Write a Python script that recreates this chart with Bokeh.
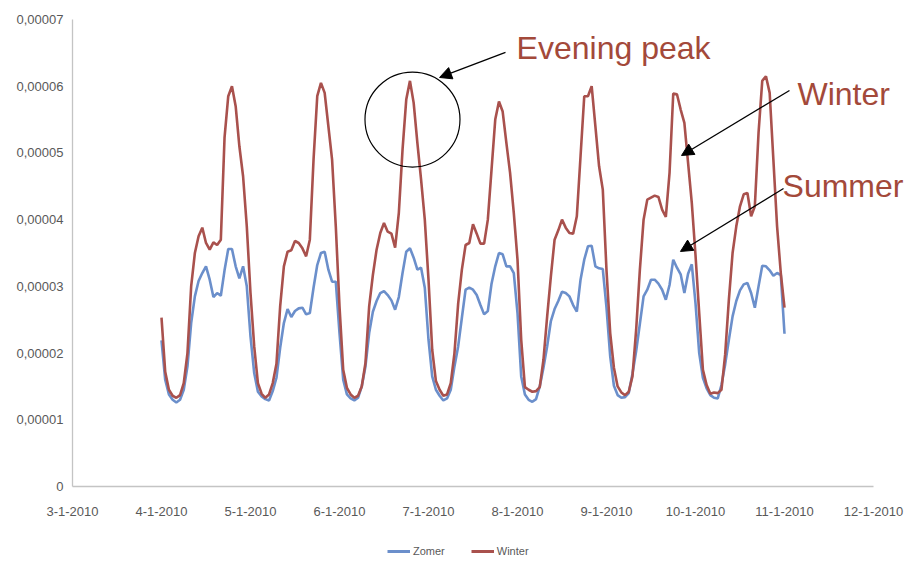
import pandas as pd
from bokeh.plotting import figure
from bokeh.layouts import column
from bokeh.models import (Range1d, FixedTicker, CustomJSTickFormatter, Legend, LegendItem,
                          Arrow, NormalHead, Label, ColumnDataSource)
from bokeh.embed import file_html
from bokeh.resources import INLINE

UNIT = 1e-5  # values below are in units of 0,00001

# ---- data: hourly values, 4-1-2010 00:00 .. 11-1-2010 00:00 ----
winter_jan04 = [2.53, 1.72, 1.45, 1.36, 1.33, 1.37, 1.55, 2.0, 3.0, 3.5, 3.75, 3.88, 3.65, 3.55, 3.66, 3.62, 3.7, 5.23, 5.85, 6.0, 5.7, 5.1, 4.65, 3.9]
winter_jan05 = [2.9, 2.1, 1.55, 1.39, 1.33, 1.38, 1.55, 1.84, 2.7, 3.3, 3.52, 3.54, 3.68, 3.65, 3.57, 3.45, 3.7, 4.9, 5.85, 6.05, 5.9, 5.4, 4.9, 3.9]
winter_jan06 = [2.7, 1.75, 1.48, 1.38, 1.33, 1.36, 1.5, 1.85, 2.7, 3.17, 3.55, 3.8, 3.95, 3.82, 3.79, 3.58, 4.1, 5.05, 5.8, 6.08, 5.75, 5.15, 4.6, 4.0]
winter_jan07 = [3.1, 2.05, 1.58, 1.45, 1.36, 1.38, 1.55, 2.0, 2.74, 3.25, 3.62, 3.65, 3.93, 3.79, 3.64, 3.64, 4.0, 4.75, 5.5, 5.77, 5.62, 5.15, 4.7, 4.1]
winter_jan08 = [3.4, 2.2, 1.49, 1.45, 1.42, 1.43, 1.49, 1.9, 2.55, 3.15, 3.7, 3.84, 4.0, 3.88, 3.8, 3.79, 4.05, 4.95, 5.85, 5.85, 6.0, 5.4, 4.8, 4.45]
winter_jan09 = [3.24, 2.3, 1.78, 1.5, 1.41, 1.37, 1.42, 1.65, 2.35, 3.25, 4.0, 4.3, 4.33, 4.36, 4.34, 4.15, 4.04, 4.7, 5.89, 5.88, 5.65, 5.45, 4.85, 4.25]
winter_jan10 = [3.47, 2.6, 1.75, 1.52, 1.39, 1.41, 1.4, 1.45, 1.98, 2.8, 3.5, 3.9, 4.2, 4.38, 4.4, 4.05, 4.2, 5.3, 6.08, 6.15, 5.9, 4.9, 3.9, 3.2]
winter_end = [2.68]

zomer_jan04 = [2.19, 1.6, 1.38, 1.3, 1.26, 1.3, 1.45, 1.8, 2.45, 2.85, 3.08, 3.2, 3.3, 3.1, 2.84, 2.9, 2.86, 3.24, 3.56, 3.56, 3.3, 3.12, 3.3, 3.0]
zomer_jan05 = [2.25, 1.7, 1.42, 1.35, 1.31, 1.29, 1.43, 1.63, 2.08, 2.45, 2.66, 2.54, 2.63, 2.67, 2.68, 2.58, 2.6, 2.98, 3.32, 3.5, 3.52, 3.25, 3.07, 3.07]
zomer_jan06 = [2.3, 1.6, 1.38, 1.32, 1.29, 1.33, 1.5, 1.8, 2.3, 2.62, 2.78, 2.9, 2.93, 2.87, 2.79, 2.65, 2.84, 3.2, 3.52, 3.57, 3.43, 3.25, 3.28, 2.98]
zomer_jan07 = [2.2, 1.65, 1.45, 1.36, 1.29, 1.32, 1.45, 1.8, 2.1, 2.53, 2.95, 2.98, 2.95, 2.87, 2.72, 2.58, 2.63, 3.04, 3.3, 3.5, 3.48, 3.3, 3.3, 3.2]
zomer_jan08 = [2.6, 1.65, 1.38, 1.3, 1.27, 1.31, 1.5, 1.78, 2.1, 2.48, 2.66, 2.78, 2.92, 2.9, 2.85, 2.72, 2.62, 3.1, 3.4, 3.6, 3.61, 3.3, 3.27, 3.26]
zomer_jan09 = [2.68, 1.95, 1.51, 1.37, 1.33, 1.34, 1.4, 1.69, 2.03, 2.44, 2.85, 2.95, 3.1, 3.1, 3.04, 2.95, 2.8, 3.02, 3.4, 3.28, 3.18, 2.9, 3.19, 3.33]
zomer_jan10 = [2.75, 2.0, 1.63, 1.47, 1.37, 1.33, 1.32, 1.52, 1.83, 2.2, 2.55, 2.78, 2.94, 3.03, 3.05, 2.9, 2.68, 3.0, 3.31, 3.3, 3.24, 3.16, 3.2, 3.17]
zomer_end = [2.29]

x_tick_labels = ["3-1-2010", "4-1-2010", "5-1-2010", "6-1-2010", "7-1-2010",
                 "8-1-2010", "9-1-2010", "10-1-2010", "11-1-2010", "12-1-2010"]
y_tick_labels = ["0", "0,00001", "0,00002", "0,00003", "0,00004", "0,00005", "0,00006", "0,00007"]

series_names = ["Zomer", "Winter"]

winter = (winter_jan04 + winter_jan05 + winter_jan06 + winter_jan07 +
          winter_jan08 + winter_jan09 + winter_jan10 + winter_end)
zomer = (zomer_jan04 + zomer_jan05 + zomer_jan06 + zomer_jan07 +
         zomer_jan08 + zomer_jan09 + zomer_jan10 + zomer_end)

times = pd.date_range("2010-01-04 00:00", periods=len(winter), freq="h")

DAY_MS = 86400000
PX_PER_DAY = 89.0
FRAME_W = 834
t0 = pd.Timestamp("2010-01-03").value / 1e6
t1 = pd.Timestamp("2010-01-12").value / 1e6
t_view_end = t0 + FRAME_W / PX_PER_DAY * DAY_MS

BLUE = "#6B8FCB"
RED = "#A9514D"
TXT = "#A3493A"
AXC = "#C4C4C4"
LBL = "#595959"
LINE_W = 2.6

src = ColumnDataSource(dict(t=times, zomer=[v * UNIT for v in zomer], winter=[v * UNIT for v in winter]))

p = figure(frame_width=FRAME_W, frame_height=467, x_axis_type="datetime",
           x_range=Range1d(t0, t_view_end), y_range=Range1d(0, 7 * UNIT),
           output_backend="svg", toolbar_location=None,
           min_border_left=72, min_border_right=0, min_border_top=19, min_border_bottom=42)
p.grid.visible = False
p.outline_line_color = None
p.background_fill_color = "white"
p.border_fill_color = "white"

# axes
p.xaxis.bounds = (t0, t1)
p.xaxis.ticker = FixedTicker(ticks=[t0 + i * DAY_MS for i in range(len(x_tick_labels))])
p.xaxis.formatter = CustomJSTickFormatter(args=dict(labels=x_tick_labels, start=t0, day=DAY_MS),
                                          code="return labels[Math.round((tick - start) / day)] || '';")
p.yaxis.ticker = FixedTicker(ticks=[i * UNIT for i in range(len(y_tick_labels))])
p.yaxis.formatter = CustomJSTickFormatter(args=dict(labels=y_tick_labels, unit=UNIT),
                                          code="return labels[Math.round(tick / unit)] || '';")
for ax in (p.xaxis[0], p.yaxis[0]):
    ax.axis_line_color = AXC
    ax.axis_line_width = 1.3
    ax.major_tick_line_color = None
    ax.minor_tick_line_color = None
    ax.major_tick_out = 0
    ax.minor_tick_out = 0
    ax.major_label_text_font = "Liberation Sans"
    ax.major_label_text_font_size = "13px"
    ax.major_label_text_color = LBL
p.yaxis.major_label_standoff = 9
p.xaxis.major_label_standoff = 20

r_z = p.line("t", "zomer", source=src, line_color=BLUE, line_width=LINE_W)
r_w = p.line("t", "winter", source=src, line_color=RED, line_width=LINE_W)

# ---- annotations (positions: days after 3-1-2010, value in units) ----
def ax_x(days):
    return t0 + days * DAY_MS

circle_pos = (3.82, 5.50)
p.scatter(x=[ax_x(circle_pos[0])], y=[circle_pos[1] * UNIT], size=95, marker="circle",
          fill_color=None, line_color="black", line_width=1.2)

arrows = [((4.865, 6.506), (4.124, 6.131)),
          ((8.056, 5.936), (6.843, 4.962)),
          ((7.989, 4.467), (6.831, 3.523))]
for (xs, ys), (xe, ye) in arrows:
    p.add_layout(Arrow(end=NormalHead(size=12, fill_color="black", line_color="black"),
                       x_start=ax_x(xs), y_start=ys * UNIT, x_end=ax_x(xe), y_end=ye * UNIT,
                       line_color="black", line_width=1.3))

texts = [("Evening peak", 4.99, 6.566), ("Winter", 8.146, 5.876), ("Summer", 7.978, 4.497)]
for txt, xd, yv in texts:
    p.add_layout(Label(x=ax_x(xd), y=yv * UNIT, text=txt, text_font="Liberation Sans",
                       text_font_size="32px", text_color=TXT, text_baseline="alphabetic"))

# ---- legend strip below the chart (its frame is aligned with the chart frame) ----
leg = figure(width=72 + FRAME_W, height=40, output_backend="svg", toolbar_location=None,
             x_range=Range1d(0, 1), y_range=Range1d(0, 1), min_border=0)
leg.axis.visible = False
leg.grid.visible = False
leg.outline_line_color = None
leg.border_fill_color = "white"
# same series; their data lie outside this strip's ranges, so only the legend samples show
lz = leg.line("t", "zomer", source=src, line_color=BLUE, line_width=3)
lw = leg.line("t", "winter", source=src, line_color=RED, line_width=3)
legend = Legend(items=[LegendItem(label=series_names[0], renderers=[lz]),
                       LegendItem(label=series_names[1], renderers=[lw])],
                orientation="horizontal", location=(315, 10),
                border_line_color=None, background_fill_alpha=0,
                label_text_font="Liberation Sans", label_text_font_size="11px",
                label_text_color=LBL, glyph_width=23, glyph_height=14, label_height=14,
                label_standoff=3, spacing=26, margin=0, padding=0)
leg.add_layout(legend)

open("out.html", "w").write(file_html(column(p, leg, spacing=0), INLINE))
